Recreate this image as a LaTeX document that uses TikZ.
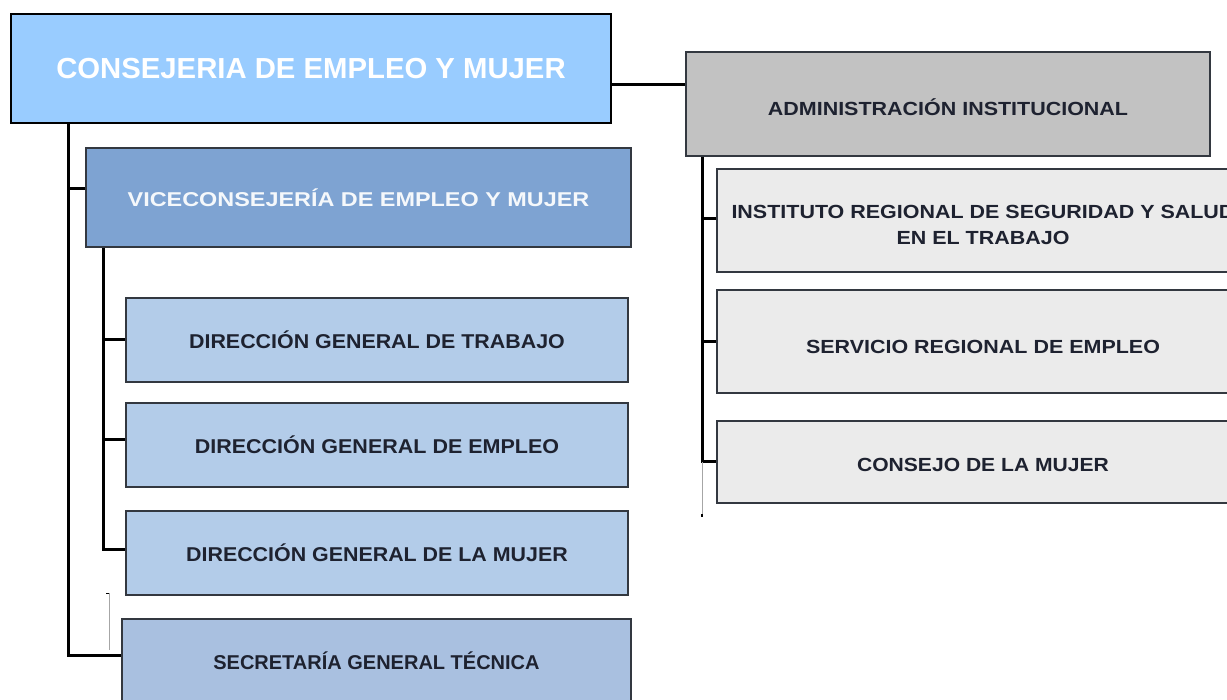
\documentclass[tikz,border=0pt]{standalone}
\usepackage{fontspec}
\setmainfont{Liberation Sans}
\usetikzlibrary{calc}
\definecolor{topblue}{HTML}{99CCFF}
\definecolor{viceblue}{HTML}{7EA3D2}
\definecolor{dirblue}{HTML}{B3CCE9}
\definecolor{secblue}{HTML}{A9C0E0}
\definecolor{admgray}{HTML}{C2C2C2}
\definecolor{ligray}{HTML}{EBEBEB}
\definecolor{darktxt}{HTML}{1E2230}
\definecolor{edge}{HTML}{333840}
\newcommand{\lowerby}[2]{\raisebox{0pt}[\dimexpr\height+#1\relax]{#2}}
\tikzset{
  box/.style={draw=edge, line width=2pt, inner sep=0pt, align=center, font=\bfseries},
  conn/.style={draw=black, line width=3pt},
  thin/.style={draw=gray!70, line width=0.8pt},
}
\begin{document}
\begin{tikzpicture}[x=1pt,y=-1pt]
\useasboundingbox (0,0) rectangle (1227,700);
\begin{scope}
\clip (0,0) rectangle (1227,700);
% nodes
\node[box, draw=black, fill=topblue, minimum width=600pt, minimum height=109pt, text=white,
  font=\fontsize{29}{34}\selectfont\bfseries] (top) at (311,68.5) {\scalebox{1.01}[1]{CONSEJERIA DE EMPLEO Y MUJER}};
\node[box, fill=viceblue, minimum width=545pt, minimum height=99pt, text=white!92!viceblue,
  font=\fontsize{20}{24}\selectfont\bfseries] (vice) at (358.5,197.5) {\scalebox{1.17}[1]{VICECONSEJERÍA DE EMPLEO Y MUJER}};
\node[box, fill=dirblue, minimum width=502pt, minimum height=84pt, text=darktxt,
  font=\fontsize{20}{24}\selectfont\bfseries] (dgt) at (377,340) {\scalebox{1.07}[1]{DIRECCIÓN GENERAL DE TRABAJO}};
\node[box, fill=dirblue, minimum width=502pt, minimum height=84pt, text=darktxt,
  font=\fontsize{20}{24}\selectfont\bfseries] (dge) at (377,445) {\scalebox{1.075}[1]{DIRECCIÓN GENERAL DE EMPLEO}};
\node[box, fill=dirblue, minimum width=502pt, minimum height=84pt, text=darktxt,
  font=\fontsize{20}{24}\selectfont\bfseries] (dgm) at (377,553) {\scalebox{1.07}[1]{DIRECCIÓN GENERAL DE LA MUJER}};
\node[box, fill=secblue, minimum width=509pt, minimum height=84pt, text=darktxt,
  font=\fontsize{20}{24}\selectfont\bfseries] (sgt) at (376.5,661) {SECRETARÍA GENERAL TÉCNICA};
\node[box, fill=admgray, minimum width=524pt, minimum height=104pt, text=darktxt,
  font=\fontsize{19}{23}\selectfont\bfseries] (adm) at (948,104) {\lowerby{7pt}{\scalebox{1.13}[1]{ADMINISTRACIÓN INSTITUCIONAL}}};
\node[box, fill=ligray, minimum width=532pt, minimum height=103pt, text=darktxt,
  font=\fontsize{19}{26}\selectfont\bfseries] (irs) at (983,220.5) {\lowerby{12pt}{\scalebox{1.13}[1]{\begin{tabular}{@{}c@{}}INSTITUTO REGIONAL DE SEGURIDAD Y SALUD\\EN EL TRABAJO\end{tabular}}}};
\node[box, fill=ligray, minimum width=532pt, minimum height=103pt, text=darktxt,
  font=\fontsize{19}{23}\selectfont\bfseries] (sre) at (983,341.5) {\lowerby{10pt}{\scalebox{1.13}[1]{SERVICIO REGIONAL DE EMPLEO}}};
\node[box, fill=ligray, minimum width=532pt, minimum height=82pt, text=darktxt,
  font=\fontsize{19}{23}\selectfont\bfseries] (cm) at (983,462) {\lowerby{5pt}{\scalebox{1.11}[1]{CONSEJO DE LA MUJER}}};
\end{scope}
% trunk coordinates
\coordinate (trunk) at ($(top.south west)+(58,0)$);
\coordinate (vtrunk) at ($(vice.south west)+(18,0)$);
\coordinate (atrunk) at ($(adm.south west)+(17,0)$);
% left main trunk
\draw[conn] (trunk) |- ([yshift=6pt]sgt.west);
\draw[conn] ([yshift=8.5pt]vice.west) -- ([yshift=8.5pt]vice.west -| trunk);
% vice trunk
\draw[conn] (vtrunk) |- ([yshift=4pt]dgm.west);
\draw[conn] (dgt.west) -- (dgt.west -| vtrunk);
\draw[conn] ([yshift=5pt]dge.west) -- ([yshift=5pt]dge.west -| vtrunk);
% to administration
\draw[conn] ([yshift=-16.5pt]top.east) -- ([yshift=-16.5pt]top.east -| adm.west);
\draw[conn] (atrunk) |- (cm.west);
\draw[conn] ([yshift=2pt]irs.west) -- ([yshift=2pt]irs.west -| atrunk);
\draw[conn] (sre.west) -- (sre.west -| atrunk);
% thin stray lines
\coordinate (s1) at ($(dgm.south west)+(-16,-3)$);
\coordinate (s2) at ($(sgt.west)+(-12,-11)$);
\draw[thin] (s1) -- (s1 |- s2);
\draw[line width=1pt] (s1) -- ++(-3,0);
\coordinate (s3) at ($(cm.south west)+(-13,13)$);
\draw[thin] (atrunk |- cm.west) -- (atrunk |- s3);
\draw[line width=1.5pt] (atrunk |- s3) -- ++(0,-3);
\end{tikzpicture}
\end{document}
